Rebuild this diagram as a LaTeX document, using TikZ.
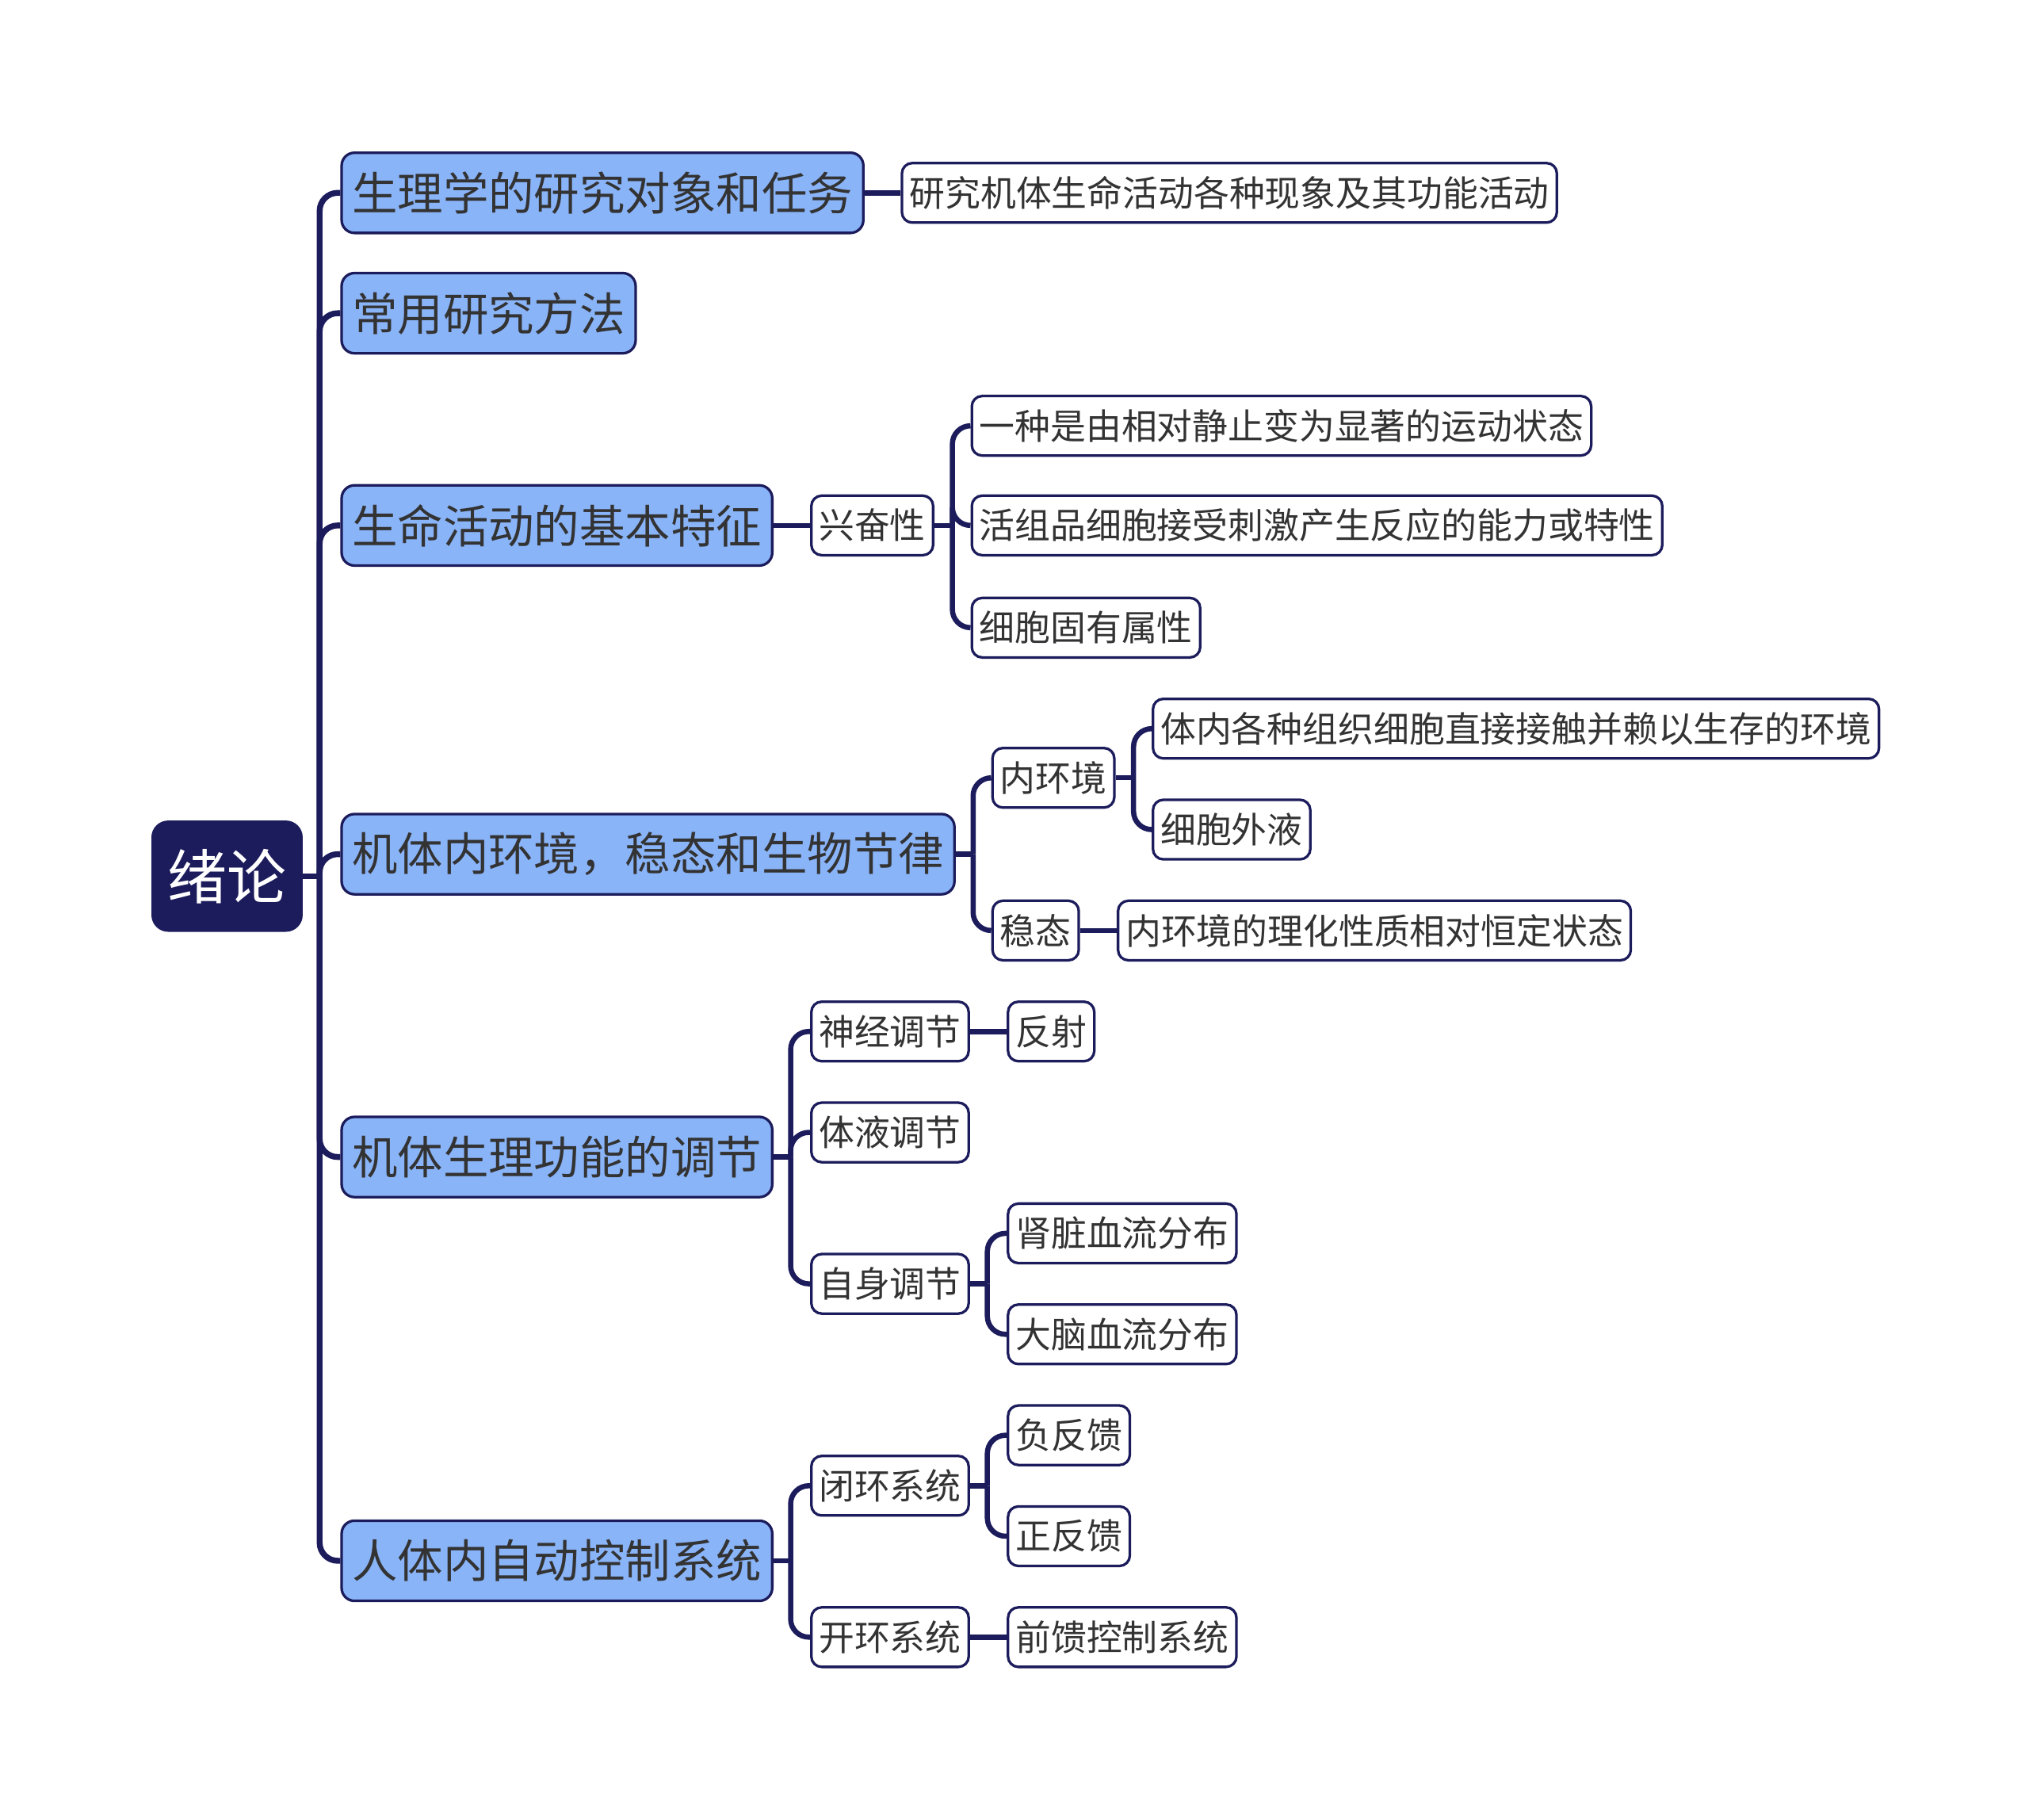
\documentclass[tikz,border=0pt]{standalone}
\usepackage{fontspec}
\setmainfont{Noto Sans CJK SC}
\definecolor{navy}{HTML}{1C1C5C}
\definecolor{skyfill}{HTML}{8AB4F8}
\definecolor{ink}{HTML}{333333}
\begin{document}
\begin{tikzpicture}[x=0.75pt,y=-0.75pt,
	rootbox/.style={draw=navy,fill=navy,text=white,line width=1.5pt,rounded corners=9pt,anchor=west,minimum height=63pt,inner xsep=8.6pt,font=\fontsize{34.5pt}{40pt}\selectfont},
	mainbox/.style={draw=navy,fill=skyfill,text=ink,line width=1.5pt,rounded corners=7.5pt,anchor=west,minimum height=46.5pt,inner xsep=6pt,font=\fontsize{26.4pt}{30pt}\selectfont},
	subbox/.style={draw=navy,fill=white,text=ink,line width=1.5pt,rounded corners=6pt,anchor=west,minimum height=34.5pt,inner xsep=4.4pt,font=\fontsize{20.6pt}{24pt}\selectfont},
	link/.style={draw=navy,line width=3pt,rounded corners=10.5pt},
	trunk/.style={link,line width=3.4pt}]
	\fill[white] (0,0) rectangle (1568,1406);
	\useasboundingbox (0,0) rectangle (1568,1406);

	\node[rootbox] (root) at (117,677) {绪论};

	\node[mainbox] (task) at (263,149) {生理学的研究对象和任务};
	\node[mainbox] (method) at (263,242) {常用研究方法};
	\node[mainbox] (feature) at (263,406) {生命活动的基本特征};
	\node[mainbox] (milieu) at (263,660) {机体内环境，稳态和生物节律};
	\node[mainbox] (regul) at (263,894) {机体生理功能的调节};
	\node[mainbox] (control) at (263,1206) {人体内自动控制系统};

	\node[subbox] (taskdef) at (696,149) {研究机体生命活动各种现象及其功能活动};

	\node[subbox] (excit) at (626,406) {兴奋性};
	\node[subbox] (excitA) at (750,329) {一种是由相对静止变为显著的运动状态};
	\node[subbox] (excitB) at (750,406) {活组品细胞接受刺激产生反应的能力或特性};
	\node[subbox] (excitC) at (750,485) {细胞固有属性};

	\node[subbox] (inner) at (766,601) {内环境};
	\node[subbox] (homeo) at (766,719) {稳态};
	\node[subbox] (innerA) at (890,563) {体内各种组织细胞直接接触并赖以生存的环境};
	\node[subbox] (innerB) at (890,641) {细胞外液};
	\node[subbox] (homeoA) at (863,719) {内环境的理化性质相对恒定状态};

	\node[subbox] (nerve) at (626,797) {神经调节};
	\node[subbox] (humor) at (626,875) {体液调节};
	\node[subbox] (selfreg) at (626,992) {自身调节};
	\node[subbox] (reflex) at (778,797) {反射};
	\node[subbox] (kidney) at (778,953) {肾脏血流分布};
	\node[subbox] (brain) at (778,1031) {大脑血流分布};

	\node[subbox] (closed) at (626,1148) {闭环系统};
	\node[subbox] (opened) at (626,1265) {开环系统};
	\node[subbox] (negfb) at (778,1109) {负反馈};
	\node[subbox] (posfb) at (778,1187) {正反馈};
	\node[subbox] (feedfwd) at (778,1265) {前馈控制系统};

	\coordinate (rootJ) at (247,677);
	\coordinate (excitJ) at (736,406);
	\coordinate (milieuJ) at (752,660);
	\coordinate (innerJ) at (876,601);
	\coordinate (regulJ) at (611,894);
	\coordinate (selfregJ) at (763,992);
	\coordinate (controlJ) at (611,1206);
	\coordinate (closedJ) at (763,1148);

	\draw[trunk] (root.east) -- (rootJ);
	\foreach \n in {task,method,feature,milieu,regul,control}
		\draw[trunk] (rootJ) |- (\n.west);

	\draw[link] (task.east) -- (taskdef.west);
	\draw[link] (feature.east) -- (excit.west);
	\draw[link] (excit.east) -- (excitJ);
	\foreach \n in {excitA,excitB,excitC}
		\draw[link] (excitJ) |- (\n.west);

	\draw[link] (milieu.east) -- (milieuJ);
	\foreach \n in {inner,homeo}
		\draw[link] (milieuJ) |- (\n.west);
	\draw[link] (inner.east) -- (innerJ);
	\foreach \n in {innerA,innerB}
		\draw[link] (innerJ) |- (\n.west);
	\draw[link] (homeo.east) -- (homeoA.west);

	\draw[link] (regul.east) -- (regulJ);
	\foreach \n in {nerve,humor,selfreg}
		\draw[link] (regulJ) |- (\n.west);
	\draw[link] (nerve.east) -- (reflex.west);
	\draw[link] (selfreg.east) -- (selfregJ);
	\foreach \n in {kidney,brain}
		\draw[link] (selfregJ) |- (\n.west);

	\draw[link] (control.east) -- (controlJ);
	\foreach \n in {closed,opened}
		\draw[link] (controlJ) |- (\n.west);
	\draw[link] (closed.east) -- (closedJ);
	\foreach \n in {negfb,posfb}
		\draw[link] (closedJ) |- (\n.west);
	\draw[link] (opened.east) -- (feedfwd.west);
\end{tikzpicture}
\end{document}
